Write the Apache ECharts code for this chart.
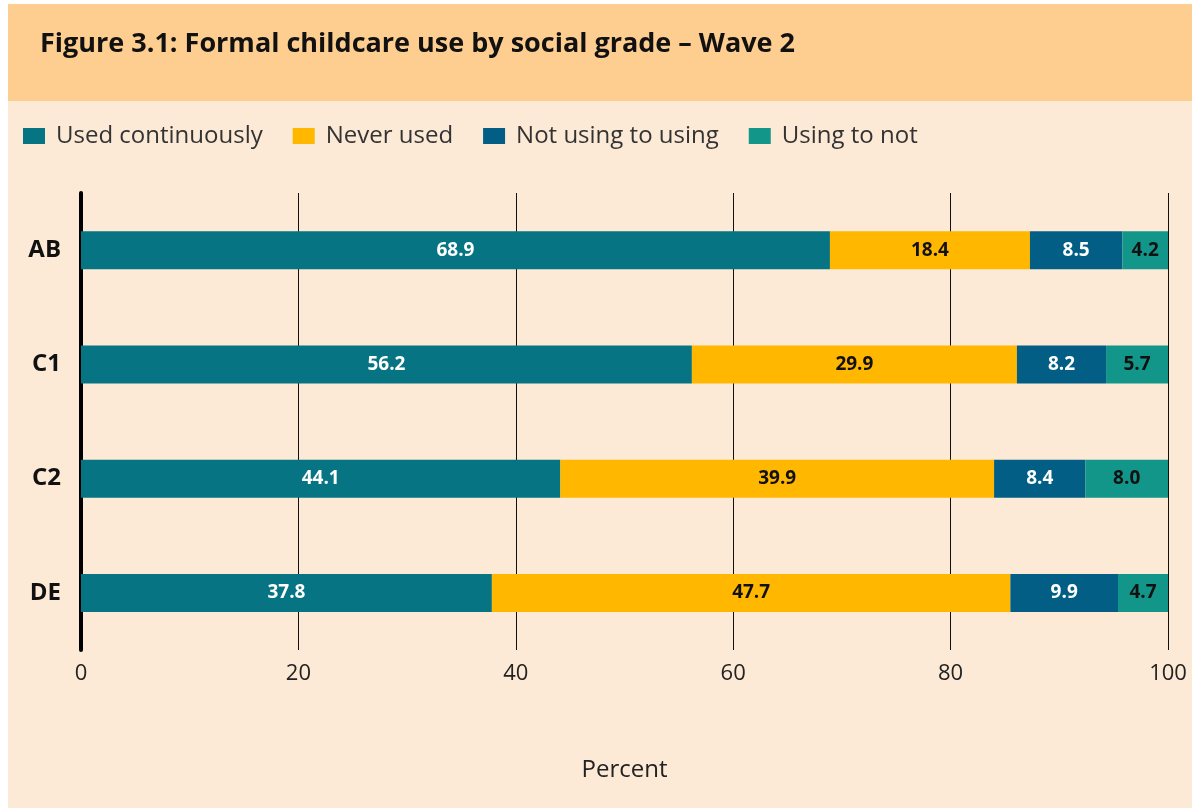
<!DOCTYPE html>
<html>
<head>
<meta charset="utf-8">
<script src="https://cdn.jsdelivr.net/npm/echarts@6/dist/echarts.min.js"></script>
<style>
  html, body { margin: 0; padding: 0; background: #ffffff; }
  #main { width: 1200px; height: 810px; }
</style>
</head>
<body>
<div id="main"></div>
<script>
// social grades, top to bottom
var grades = ['AB', 'C1', 'C2', 'DE'];
var seriesNames = ['Used continuously', 'Never used', 'Not using to using', 'Using to not'];
var usedContinuously = [68.9, 56.2, 44.1, 37.8];
var neverUsed = [18.4, 29.9, 39.9, 47.7];
var notToUsing = [8.5, 8.2, 8.4, 9.9];
var usingToNot = [4.2, 5.7, 8.0, 4.7];
var xTicks = [0, 20, 40, 60, 80, 100];

var colours = ['#067483', '#ffb700', '#035e85', '#13968a'];
var labelColours = ['#ffffff', '#111111', '#ffffff', '#111111'];
var allData = [usedContinuously, neverUsed, notToUsing, usingToNot];

var myChart = echarts.init(document.getElementById('main'));

var series = [];
for (var i = 0; i < seriesNames.length; i++) {
    series.push({
        name: seriesNames[i],
        type: 'bar',
        stack: 'total',
        barWidth: 38,
        itemStyle: { color: colours[i] },
        label: {
            show: true,
            position: 'inside',
            color: labelColours[i],
            fontFamily: 'Open Sans',
            fontWeight: 'bold',
            fontSize: 19,
            formatter: function (p) { return p.value.toFixed(1); }
        },
        data: allData[i]
    });
}

var options = {
    animation: false,
    textStyle: { fontFamily: 'Open Sans' },
    graphic: [
        { type: 'rect', z: -10, shape: { x: 8, y: 4, width: 1184, height: 97 }, style: { fill: '#fece90' } },
        { type: 'rect', z: -10, shape: { x: 8, y: 101, width: 1184, height: 707 }, style: { fill: '#fce9d6' } },
        {
            type: 'text', left: 40, top: 31,
            style: {
                text: 'Figure 3.1: Formal childcare use by social grade \u2013 Wave 2',
                font: 'bold 27px "Open Sans"', fill: '#111111'
            }
        }
    ],
    legend: {
        left: 18,
        top: 119,
        itemWidth: 22,
        itemHeight: 16,
        itemGap: 30,
        icon: 'rect',
        textStyle: { fontSize: 24, color: '#333333', fontFamily: 'Open Sans', padding: [0, 0, 0, 6] },
        data: seriesNames
    },
    grid: {
        left: 81,
        right: 32,
        top: 193,
        bottom: 160
    },
    xAxis: {
        type: 'value',
        min: xTicks[0],
        max: xTicks[xTicks.length - 1],
        interval: 20,
        name: 'Percent',
        nameLocation: 'middle',
        nameGap: 108,
        nameTextStyle: { fontSize: 24, color: '#222222' },
        axisLine: { show: false },
        axisTick: { show: false },
        axisLabel: { fontSize: 22, color: '#222222', margin: 13 },
        splitLine: { show: true, lineStyle: { color: '#111111', width: 1 } }
    },
    yAxis: {
        type: 'category',
        inverse: true,
        data: grades,
        axisLine: { show: true, lineStyle: { color: '#000000', width: 4 } },
        axisTick: { show: false },
        axisLabel: { fontSize: 24, fontWeight: 'bold', color: '#111111', margin: 20 }
    },
    series: series
};

myChart.setOption(options);
</script>
</body>
</html>
